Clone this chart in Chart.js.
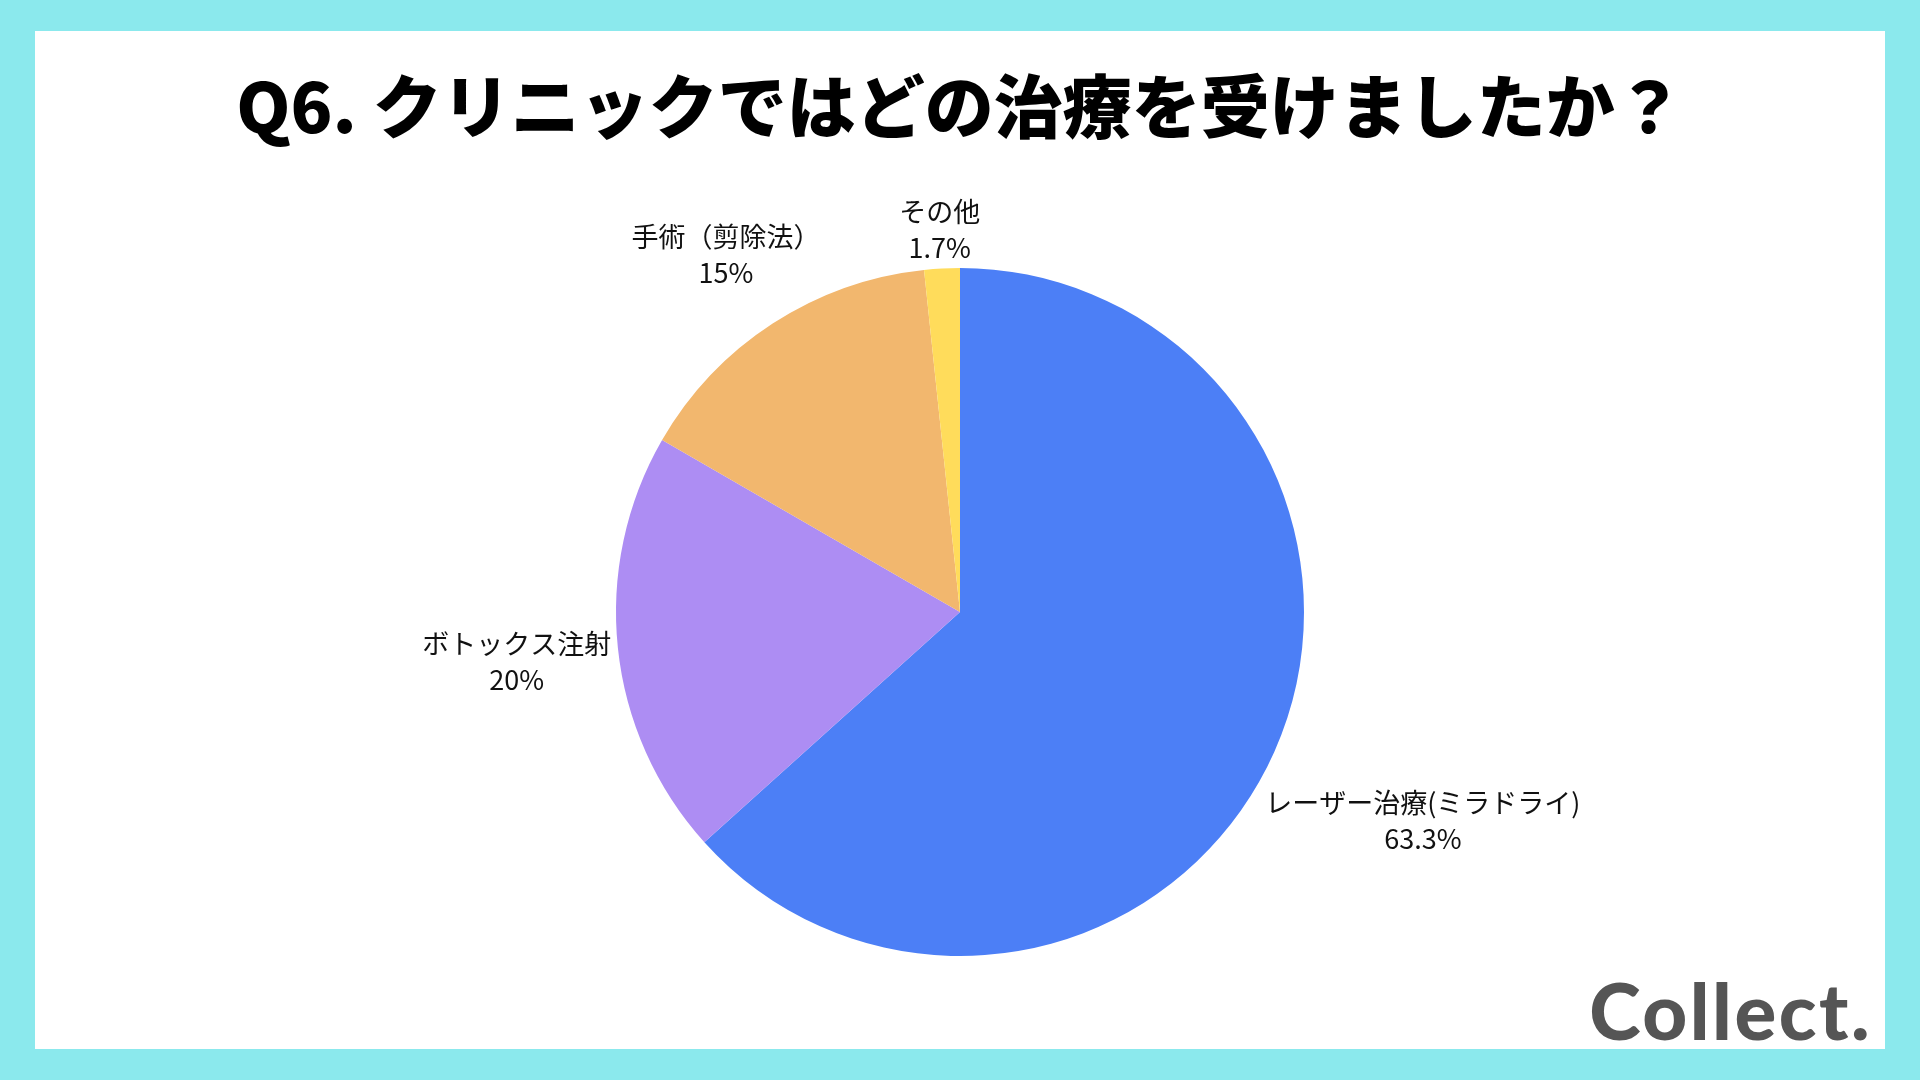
<!DOCTYPE html>
<html lang="ja">
<head>
<meta charset="utf-8">
<title>Q6</title>
<script src="https://cdn.jsdelivr.net/npm/chart.js@4.4.0/dist/chart.umd.min.js"></script>
<style>
  body { margin: 0; width: 1920px; height: 1080px; background: #8be9ed; position: relative; overflow: hidden; }
  #panel { position: absolute; left: 35px; top: 31px; width: 1850px; height: 1018px; background: #fff; }
  #title { position: absolute; left: 0; width: 1920px; top: 57px; text-align: center; margin: 0;
           font-family: "Noto Sans CJK JP", sans-serif; font-weight: 900; font-size: 69px; line-height: 92px; color: #000; }
  #wrap { position: absolute; left: 210px; top: 162px; width: 1500px; height: 900px; }
  #logo { position: absolute; right: 48px; top: 965px; font-family: Lato, sans-serif; font-weight: 900;
          font-size: 78px; line-height: 90px; color: #555; letter-spacing: 2.5px; }
</style>
</head>
<body>
<div id="panel"></div>
<h1 id="title">Q6. クリニックではどの治療を受けましたか？</h1>
<div id="wrap"><canvas id="pie"></canvas></div>
<div id="logo">Collect.</div>
<script>
// answers (n = 60)
var labels = ['レーザー治療(ミラドライ)', 'ボトックス注射', '手術（剪除法）', 'その他'];
var counts = [38, 12, 9, 1];
var colors = ['#4c7ff6', '#ad8df3', '#f2b76e', '#ffdc5b'];

// draw label + percent outside each slice
var outsideLabels = {
  id: 'outsideLabels',
  afterDatasetsDraw: function (chart) {
    var ctx = chart.ctx;
    var total = counts.reduce(function (a, b) { return a + b; }, 0);
    var lineH = 36;
    ctx.save();
    ctx.font = '27px "Noto Sans CJK JP", sans-serif';
    ctx.fillStyle = '#111';
    ctx.textAlign = 'center';
    ctx.textBaseline = 'middle';
    chart.getDatasetMeta(0).data.forEach(function (arc, i) {
      var p = arc.getProps(['x', 'y', 'startAngle', 'endAngle', 'outerRadius'], true);
      var mid = (p.startAngle + p.endAngle) / 2;
      var pct = Math.round(counts[i] / total * 1000) / 10;
      var lines = [labels[i], pct + '%'];
      var w = Math.max(ctx.measureText(lines[0]).width, ctx.measureText(lines[1]).width);
      var c = Math.cos(mid), s = Math.sin(mid);
      var dist = p.outerRadius + 4 + Math.abs(c) * w / 2 + Math.abs(s) * lineH;
      var cx = p.x + c * dist;
      var cy = p.y + s * dist + 3;
      ctx.fillText(lines[0], cx, cy - lineH / 2);
      ctx.fillText(lines[1], cx, cy + lineH / 2);
    });
    ctx.restore();
  }
};

new Chart(document.getElementById('pie').getContext('2d'), {
  type: 'pie',
  data: {
    labels: labels,
    datasets: [{
      data: counts,
      backgroundColor: colors,
      borderWidth: 0
    }]
  },
  options: {
    responsive: true,
    maintainAspectRatio: false,
    animation: false,
    events: [],
    layout: { padding: { top: 106, bottom: 106, left: 100, right: 100 } },
    plugins: {
      legend: { display: false },
      tooltip: { enabled: false }
    }
  },
  plugins: [outsideLabels]
});
</script>
</body>
</html>
